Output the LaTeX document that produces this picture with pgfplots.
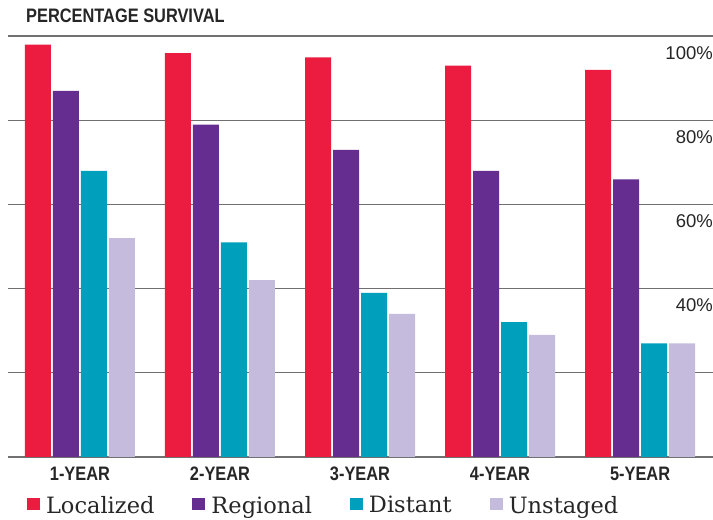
\documentclass[border=0pt]{standalone}
\usepackage{fontspec}
\setmainfont{Liberation Sans}
\newfontfamily\condbold[FakeStretch=0.84]{Liberation Sans Bold}
\newfontfamily\legfont{DejaVu Serif}
\usepackage{pgfplots}
\pgfplotsset{compat=1.18}
\definecolor{cLoc}{RGB}{236,27,64}
\definecolor{cReg}{RGB}{102,45,145}
\definecolor{cDis}{RGB}{0,160,188}
\definecolor{cUns}{RGB}{197,187,220}
\definecolor{gridgray}{RGB}{112,112,112}
\begin{document}
\begin{tikzpicture}
\useasboundingbox (0,0) rectangle (713pt,520pt);
\begin{axis}[
  at={(8pt,63.2pt)}, anchor=south west,
  scale only axis, width=705pt, height=420.5pt,
  xmin=-0.514, xmax=4.521, ymin=0, ymax=100,
  ybar, bar width=26pt,
  axis line style={draw=none},
  major tick length=0pt, tick style={draw=none},
  xtick={0,1,2,3,4},
  xticklabels={1-YEAR,2-YEAR,3-YEAR,4-YEAR,5-YEAR},
  xticklabel style={font=\condbold\fontsize{19.5}{20}\selectfont, text=black!85, inner sep=0pt, anchor=north, yshift=-10pt},
  ytick={0,20,40,60,80,100},
  yticklabels={,,40\%,60\%,80\%,100\%},
  yticklabel pos=right,
  yticklabel style={font=\fontsize{18.5}{19}\selectfont, text=black!85, inner sep=0pt, anchor=north east, yshift=-10pt},
  ymajorgrids, grid style={line width=1.6pt, color=gridgray},
  title={PERCENTAGE SURVIVAL},
  title style={font=\condbold\fontsize{19.5}{20}\selectfont, text=black!85, inner sep=0pt, at={(axis description cs:0.0255,1.019)}, anchor=base west},
  legend columns=4,
  legend style={draw=none, fill=none, inner sep=0pt, outer sep=0pt,
    at={(axis description cs:0.027,-0.0935)}, anchor=north west,
    font=\legfont\fontsize{22.5}{24}\selectfont, text=black!85,
    nodes={inner sep=0pt},
    /tikz/every odd column/.append style={column sep=6pt},
    /tikz/every even column/.append style={column sep=38pt}},
  legend cell align=left,
]
\addplot[fill=cLoc, draw=none, bar shift=-42pt, legend image code/.code={\fill[cLoc] (0pt,-5pt) rectangle (13pt,7pt);}] coordinates {(0,98) (1,96) (2,95) (3,93) (4,92)};
\addplot[fill=cReg, draw=none, bar shift=-14pt, legend image code/.code={\fill[cReg] (0pt,-5pt) rectangle (13pt,7pt);}] coordinates {(0,87) (1,79) (2,73) (3,68) (4,66)};
\addplot[fill=cDis, draw=none, bar shift=14pt, legend image code/.code={\fill[cDis] (0pt,-5pt) rectangle (13pt,7pt);}] coordinates {(0,68) (1,51) (2,39) (3,32) (4,27)};
\addplot[fill=cUns, draw=none, bar shift=42pt, legend image code/.code={\fill[cUns] (0pt,-5pt) rectangle (13pt,7pt);}] coordinates {(0,52) (1,42) (2,34) (3,29) (4,27)};
\legend{Localized,Regional,Distant,Unstaged}
\end{axis}
\end{tikzpicture}
\end{document}
